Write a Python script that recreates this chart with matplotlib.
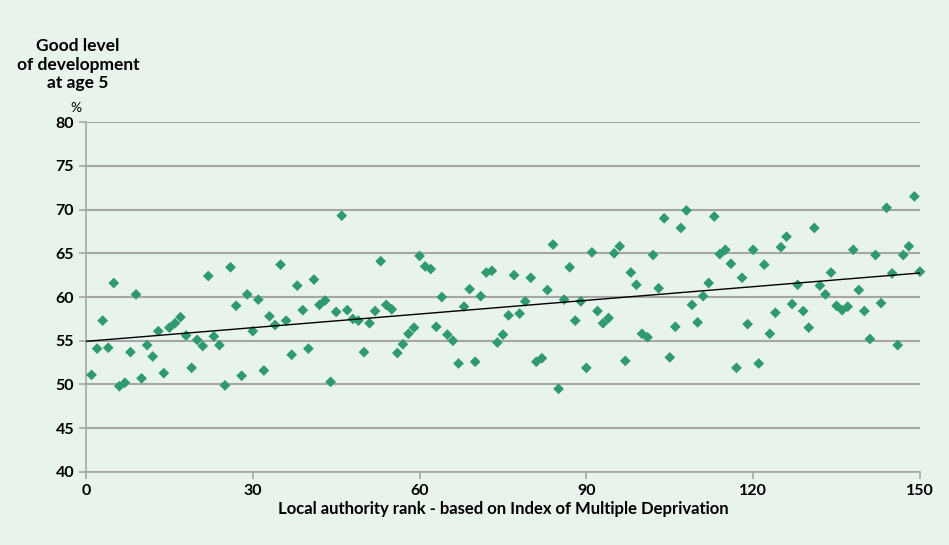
import numpy as np
import matplotlib.pyplot as plt

# local authority rank (1..150) and % good level of development at age 5
rank = list(range(1, 151))
good_dev = [
    51.1, 54.1, 57.3, 54.2, 61.6, 49.8, 50.2, 53.7, 60.3, 50.7,
    54.5, 53.2, 56.1, 51.3, 56.5, 57.0, 57.7, 55.6, 51.9, 55.1,
    54.4, 62.4, 55.5, 54.5, 49.9, 63.4, 59.0, 51.0, 60.3, 56.1,
    59.7, 51.6, 57.8, 56.8, 63.7, 57.3, 53.4, 61.3, 58.5, 54.1,
    62.0, 59.1, 59.6, 50.3, 58.3, 69.3, 58.5, 57.5, 57.3, 53.7,
    57.0, 58.4, 64.1, 59.1, 58.6, 53.6, 54.6, 55.8, 56.5, 64.7,
    63.5, 63.2, 56.6, 60.0, 55.7, 55.0, 52.4, 58.9, 60.9, 52.6,
    60.1, 62.8, 63.0, 54.8, 55.7, 57.9, 62.5, 58.1, 59.5, 62.2,
    52.6, 53.0, 60.8, 66.0, 49.5, 59.7, 63.4, 57.3, 59.5, 51.9,
    65.1, 58.4, 57.0, 57.6, 65.0, 65.8, 52.7, 62.8, 61.4, 55.8,
    55.4, 64.8, 61.0, 69.0, 53.1, 56.6, 67.9, 69.9, 59.1, 57.1,
    60.1, 61.6, 69.2, 64.9, 65.4, 63.8, 51.9, 62.2, 56.9, 65.4,
    52.4, 63.7, 55.8, 58.2, 65.7, 66.9, 59.2, 61.4, 58.4, 56.5,
    67.9, 61.3, 60.3, 62.8, 59.0, 58.5, 58.9, 65.4, 60.8, 58.4,
    55.2, 64.8, 59.3, 70.2, 62.7, 54.5, 64.8, 65.8, 71.5, 62.9,
]
xticks = [0, 30, 60, 90, 120, 150]
yticks = [40, 45, 50, 55, 60, 65, 70, 75, 80]

bg = '#e8f3eb'
plt.rcParams['font.family'] = ['Lato', 'DejaVu Sans']

fig = plt.figure(figsize=(9.49, 5.45), dpi=100, facecolor=bg)
ax = fig.add_axes([0.0906, 0.134, 0.8788, 0.642])
ax.set_facecolor(bg)

ax.scatter(rank, good_dev, marker='D', s=30, color='#2e9a6e', zorder=3,
           edgecolors='none', clip_on=False)

# linear trend line
m, c = np.polyfit(rank, good_dev, 1)
xs = np.array([0, 150])
ax.plot(xs, m * xs + c, color='black', lw=1, zorder=4)

ax.set_xlim(0, 150)
ax.set_ylim(40, 80)
ax.set_xticks(xticks)
ax.set_yticks(yticks)
ax.grid(axis='y', color='#a3a8a5', lw=1.5)
ax.set_axisbelow(True)
for s in ['top', 'right']:
    ax.spines[s].set_visible(False)
for s in ['left', 'bottom']:
    ax.spines[s].set_color('#a3a8a5')
    ax.spines[s].set_linewidth(1.2)
ax.tick_params(colors='#a3a8a5', labelcolor='black', length=5, width=1.2)
ax.tick_params(axis='x', pad=4)
for lab in ax.get_xticklabels() + ax.get_yticklabels():
    lab.set_fontweight('bold')
    lab.set_fontsize(11.5)

ax.set_xlabel('Local authority rank - based on Index of Multiple Deprivation',
              fontsize=12, fontweight='bold', labelpad=2)

fig.text(0.0822, 0.881, 'Good level\nof development\nat age 5', ha='center',
         va='center', fontsize=12.5, fontweight='bold', linespacing=1.2)
fig.text(0.080, 0.802, '%', ha='center', va='center', fontsize=10)

plt.savefig('out.png', dpi=100, facecolor=bg)
